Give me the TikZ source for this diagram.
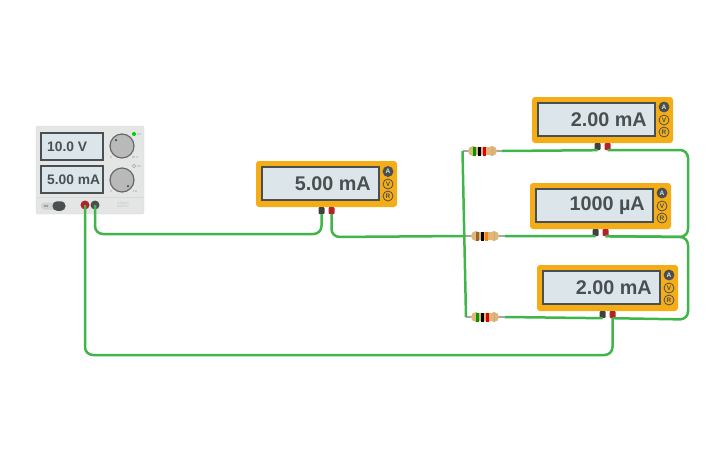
\documentclass[tikz,border=0pt]{standalone}
\usepackage{fontspec}
\setmainfont{Liberation Sans}
\definecolor{wire}{HTML}{3FB54A}
\definecolor{meterbody}{HTML}{F5AD17}
\definecolor{screen}{HTML}{DCE6EA}
\definecolor{ink}{HTML}{4A4F52}
\definecolor{panel}{HTML}{E4E5E5}
\definecolor{leadred}{HTML}{B5202A}
\definecolor{restan}{HTML}{DDB878}
\tikzset{
  wire/.style={draw=wire, line width=2.5pt, rounded corners=8pt},
  reslead/.style={draw=gray!70, line width=1.6pt},
  meter/.style={draw=none, fill=meterbody, rounded corners=3pt, minimum width=141pt, minimum height=46pt, inner sep=0pt},
  screenbox/.style={draw=ink, line width=2pt, fill=screen, minimum width=117pt, minimum height=33pt, inner sep=0pt},
  reading/.style={font=\fontsize{19.8}{20}\bfseries\selectfont, text=ink, anchor=east, inner sep=0pt},
  btn/.style={circle, draw=ink, line width=0.8pt, fill=meterbody, minimum size=10pt, inner sep=0pt, text=ink, font=\fontsize{6.5}{7}\bfseries\selectfont},
  btnon/.style={btn, fill=ink, text=screen},
  blacklead/.style={fill=black!75, rounded corners=1pt, minimum width=6pt, minimum height=7pt, inner sep=0pt},
  redlead/.style={blacklead, fill=leadred},
  panelscreen/.style={draw=ink, line width=2pt, fill=screen, minimum width=62pt, minimum height=27pt, inner sep=0pt},
  panelreading/.style={font=\fontsize{13.8}{15}\bfseries\selectfont, text=ink, anchor=west, inner sep=0pt},
  knob/.style={circle, draw=ink!85, line width=1.2pt, fill=gray!55, minimum size=24pt, inner sep=0pt},
  knobdot/.style={circle, fill=ink, minimum size=2.5pt, inner sep=0pt},
  tinytext/.style={font=\fontsize{3}{3.5}\selectfont, text=gray!80, inner sep=0pt, align=center},
  resbody/.style={fill=restan, minimum width=24pt, minimum height=8pt, inner sep=0pt},
  resend/.style={circle, fill=restan, minimum size=10pt, inner sep=0pt},
  band/.style={minimum width=3pt, minimum height=9pt, inner sep=0pt}
}
\begin{document}
\begin{tikzpicture}[x=1pt,y=-1pt]
\useasboundingbox (0,0) rectangle (725,453);
% supply
\node [fill=panel, draw=gray!30, rounded corners=1.5pt, minimum width=108pt, minimum height=88pt, inner sep=0pt] (sup) at (90,170) {};
\node [fill=gray!30, minimum width=107pt, minimum height=0.6pt, inner sep=0pt] (supline) at (90,197) {};
\node [panelscreen] (supv) at (72,146.5) {};
\node [panelscreen] (supi) at (72,179.5) {};
\node [panelreading] (supvtext) at (47,146.5) {10.0 V};
\node [panelreading] (supitext) at (47,179.5) {5.00 mA};
\node [knob] (knobv) at (122,146) {};
\node [knob] (knobi) at (122,180) {};
\node [knobdot] (knobvdot) at (116,140) {};
\node [knobdot] (knobidot) at (128,186) {};
\node [circle, fill=green!80!black, minimum size=4pt, inner sep=0pt] (ledv) at (134,134) {};
\node [circle, draw=gray!70, line width=0.4pt, minimum size=3.5pt, inner sep=0pt] (ledi) at (134,166) {};
\node [tinytext] (ledvtext) at (139,134) {CV};
\node [tinytext] (leditext) at (139,166) {CC};
\node [tinytext] (knobvlo) at (111,157) {0};
\node [tinytext] (knobvhi) at (135,157) {30 V};
\node [tinytext] (knobilo) at (111,191) {0};
\node [tinytext] (knobihi) at (135,191) {5 A};
\node [fill=gray!35, rounded corners=3.5pt, minimum width=24pt, minimum height=7pt, inner sep=0pt] (sw) at (53,206) {};
\node [fill=ink, rounded corners=4.5pt, minimum width=13pt, minimum height=9.5pt, inner sep=0pt] (swknob) at (59,206) {};
\node [tinytext, text=ink] (swtext) at (46,206) {ON};
\node [tinytext, text=gray!50] (suptext) at (123,205) {POWER\\SUPPLY};
\node [circle, fill=leadred, minimum size=9pt, inner sep=0pt] (supp) at (85,205) {};
\node [circle, fill=ink, minimum size=9pt, inner sep=0pt] (supn) at (95,205) {};
% meter 1
\node [meter] (m1) at (326.5,184) {};
\node [screenbox] (m1s) at (320.5,183.5) {};
\node [reading] (m1t) at (371,184) {5.00 mA};
\node [btnon] (m1a) at (388,171.5) {A};
\node [btn] (m1v) at (388,184) {V};
\node [btn] (m1o) at (388,196) {R};
\node [blacklead] (m1b) at (321.5,210.5) {};
\node [redlead] (m1r) at (331.5,210.5) {};
% meter 2
\node [meter] (m2) at (602.5,120) {};
\node [screenbox] (m2s) at (596.5,119.5) {};
\node [reading] (m2t) at (647,120) {2.00 mA};
\node [btnon] (m2a) at (664,107) {A};
\node [btn] (m2v) at (664,120) {V};
\node [btn] (m2o) at (664,132) {R};
\node [blacklead] (m2b) at (597.5,146.5) {};
\node [redlead] (m2r) at (607.5,146.5) {};
% meter 3
\node [meter] (m3) at (600.5,206) {};
\node [screenbox] (m3s) at (594.5,205.5) {};
\node [reading] (m3t) at (645,206) {1000 µA};
\node [btnon] (m3a) at (662,193) {A};
\node [btn] (m3v) at (662,206) {V};
\node [btn] (m3o) at (662,218) {R};
\node [blacklead] (m3b) at (595.5,232.5) {};
\node [redlead] (m3r) at (605.5,232.5) {};
% meter 4
\node [meter] (m4) at (607.5,288) {};
\node [screenbox] (m4s) at (601.5,287.5) {};
\node [reading] (m4t) at (652,288) {2.00 mA};
\node [btnon] (m4a) at (669,275) {A};
\node [btn] (m4v) at (669,288) {V};
\node [btn] (m4o) at (669,300) {R};
\node [blacklead] (m4b) at (602.5,314.5) {};
\node [redlead] (m4r) at (612.5,314.5) {};
% resistors
\coordinate (r1l) at (462.5,151);
\coordinate (r1e) at (502,151);
\coordinate (r2l) at (465,236);
\coordinate (r2e) at (505,236);
\coordinate (r3l) at (466,317);
\coordinate (r3e) at (505,317);
\draw [reslead] (r1l) -- (r1e);
\draw [reslead] (r2l) -- (r2e);
\draw [reslead] (r3l) -- (r3e);
\node [resbody] (r1) at (482.5,151) {};
\node [resend] (r1a) at (473,151) {};
\node [resend] (r1b) at (492,151) {};
\node [band, fill=green!60!black] (r1c1) at (474.5,151) {};
\node [band, fill=black] (r1c2) at (479.5,151) {};
\node [band, fill=red!90!black] (r1c3) at (484.5,151) {};
\node [band, minimum width=1pt, fill=brown!70] (r1c4) at (492,151) {};
\node [resbody] (r2) at (485,236) {};
\node [resend] (r2a) at (476,236) {};
\node [resend] (r2b) at (494,236) {};
\node [band, fill=brown!80!black] (r2c1) at (477,236) {};
\node [band, fill=black] (r2c2) at (482,236) {};
\node [band, fill=orange] (r2c3) at (486.5,236) {};
\node [band, minimum width=1pt, fill=brown!70] (r2c4) at (494,236) {};
\node [resbody] (r3) at (485,317) {};
\node [resend] (r3a) at (476,317) {};
\node [resend] (r3b) at (494,317) {};
\node [band, fill=green!60!black] (r3c1) at (477,317) {};
\node [band, fill=black] (r3c2) at (482,317) {};
\node [band, fill=red!90!black] (r3c3) at (487,317) {};
\node [band, minimum width=1pt, fill=brown!70] (r3c4) at (494,317) {};
% wires
\draw [wire] (supp.center) -- (85,355) -- (612.5,355) -- (m4r.south);
\draw [wire] (supn.center) -- (95,234) -- (321.5,234) -- (m1b.south);
\draw [wire] (m1r.south) -- (331.5,237) -- (r2l);
\draw [wire] (r2e) -- (m3b.south);
\draw [wire] (r1e) -- (m2b.south);
\draw [wire] (r3e) -- (m4b.south);
\draw [wire] (m2r.south) -- (688,150) -- (688,237) -- (m3r.south);
\draw [wire] (m3r.south) -- (688,237) -- (688,319.5) -- (m4r.south);
\draw [wire, rounded corners=0pt] (r1l) -- (r3l);
\end{tikzpicture}
\end{document}
